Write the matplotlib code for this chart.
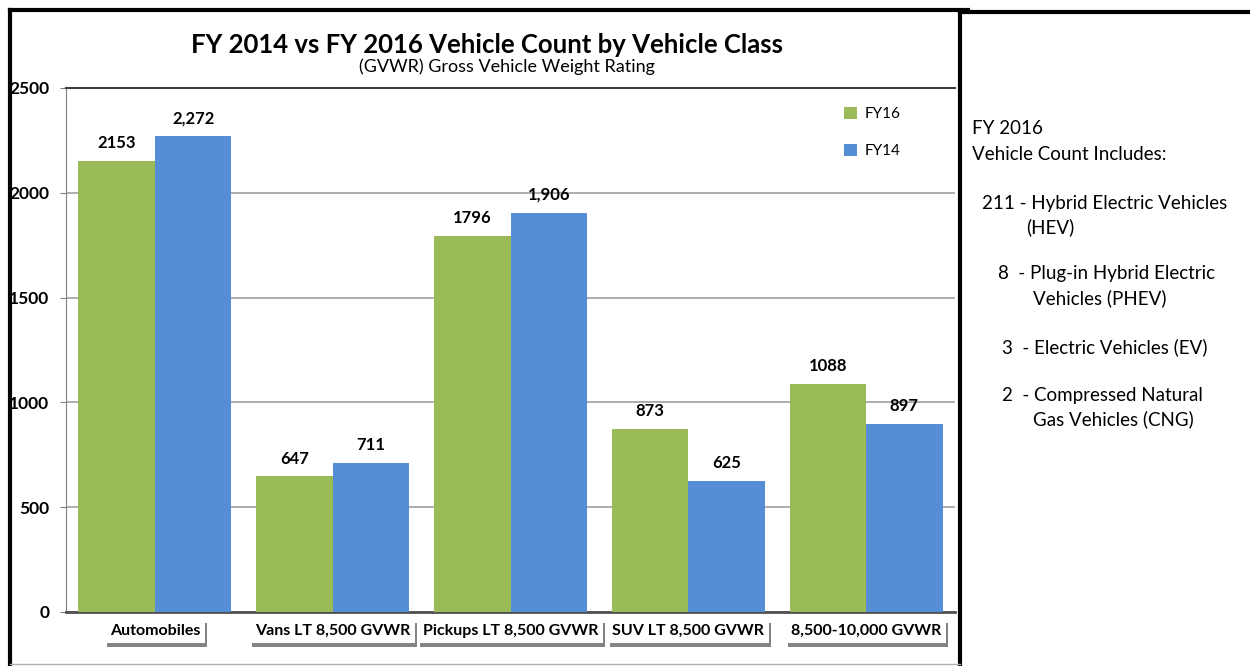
import numpy as np
import matplotlib.pyplot as plt
import matplotlib.patheffects as pe
from matplotlib.lines import Line2D

categories = ["Automobiles", "Vans LT 8,500 GVWR", "Pickups LT 8,500 GVWR",
              "SUV LT 8,500 GVWR", "8,500-10,000 GVWR"]
fy16 = [2153, 647, 1796, 873, 1088]
fy14 = [2272, 711, 1906, 625, 897]
fy16_labels = ["2153", "647", "1796", "873", "1088"]
fy14_labels = ["2,272", "711", "1,906", "625", "897"]
yticks = [0, 500, 1000, 1500, 2000, 2500]

notes = [
    ("FY 2016", 972, 128),
    ("Vehicle Count Includes:", 972, 155),
    ("211 - Hybrid Electric Vehicles", 982, 203),
    ("(HEV)", 1026, 227),
    ("8  - Plug-in Hybrid Electric", 998, 274),
    ("Vehicles (PHEV)", 1033, 298),
    ("3  - Electric Vehicles (EV)", 1002, 347),
    ("2  - Compressed Natural", 1002, 395),
    ("Gas Vehicles (CNG)", 1033, 419),
]

green = "#9BBB59"
blue = "#558ED5"
W, H = 1250, 666
plt.rcParams['font.family'] = ['Lato', 'DejaVu Sans']

fig = plt.figure(figsize=(12.5, 6.66), dpi=100)
ax = fig.add_axes([66 / W, (H - 612) / H, 889 / W, 524 / H])

x = np.arange(len(categories))
bw = 0.43
ax.bar(x - bw / 2, fy16, bw, color=green, label="FY16", zorder=3)
ax.bar(x + bw / 2, fy14, bw, color=blue, label="FY14", zorder=3)

for i in range(len(x)):
    ax.annotate(fy16_labels[i], (x[i] - bw / 2, fy16[i]), xytext=(0, 7),
                textcoords="offset points", ha="center", va="bottom",
                fontsize=12, fontweight="bold")
    ax.annotate(fy14_labels[i], (x[i] + bw / 2, fy14[i]), xytext=(0, 7),
                textcoords="offset points", ha="center", va="bottom",
                fontsize=12, fontweight="bold")

ax.set_xlim(-0.5, len(categories) - 0.5)
ax.set_ylim(0, 2500)
ax.set_yticks(yticks)
ax.set_yticklabels([str(v) for v in yticks], fontsize=12.5, fontweight="bold")
ax.yaxis.grid(True, color="#A0A0A0", linewidth=1.2, zorder=0)
ax.tick_params(axis="y", length=4, color="#808080", pad=8)
ax.set_xticks(x)
ax.set_xticklabels([])
ax.tick_params(axis="x", length=0)
ax.spines["right"].set_visible(False)
ax.spines["left"].set_color("#808080")
ax.spines["bottom"].set_color("#505050")
ax.spines["bottom"].set_linewidth(2)
ax.spines["top"].set_color("#404040")
ax.spines["top"].set_linewidth(1.5)

# category labels in white boxes with a drop shadow
for i, c in enumerate(categories):
    t = ax.text(x[i], -92, c, ha="center", va="center", fontsize=11.5,
                fontweight="bold", clip_on=False,
                bbox=dict(boxstyle="square,pad=0.3", fc="white", ec="none"))
    t.get_bbox_patch().set_path_effects([
        pe.SimplePatchShadow(offset=(1.5, -2.5), shadow_rgbFace="#333333", alpha=0.6),
        pe.Normal()])

ax.legend(loc="upper left", bbox_to_anchor=(0.86, 0.99), frameon=False,
          fontsize=11, handlelength=0.8, handleheight=0.8,
          labelspacing=1.5, handletextpad=0.5)

# title
fig.text(487 / W, 1 - 45 / H, "FY 2014 vs FY 2016 Vehicle Count by Vehicle Class",
         ha="center", va="center", fontsize=18.5, fontweight="bold")
fig.text(507 / W, 1 - 67 / H, "(GVWR) Gross Vehicle Weight Rating",
         ha="center", va="center", fontsize=13)

# borders
def fline(xs, ys, lw, color="black"):
    fig.add_artist(Line2D([v / W for v in xs], [1 - v / H for v in ys],
                          lw=lw, color=color, solid_capstyle="projecting"))

fline([10, 10], [10, 666], 3)
fline([10, 968], [10, 10], 3)
fline([960, 960], [12, 666], 3)
fline([960, 1250], [12, 12], 3)
fline([10, 960], [664, 664], 1, "#B0B0B0")

for txt, px, py in notes:
    fig.text(px / W, 1 - py / H, txt, ha="left", va="center", fontsize=13.5)

fig.savefig("out.png", dpi=100)
